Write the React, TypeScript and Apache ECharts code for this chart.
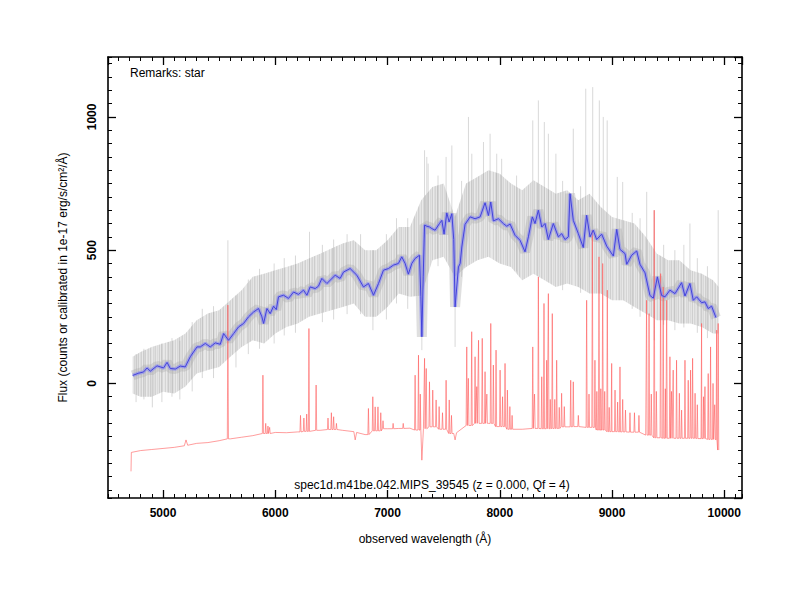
import React, { useEffect, useRef } from 'react';
import * as echarts from 'echarts';

const X_MIN = 4510;
const X_MAX = 10158;
const Y_MIN = -430;
const Y_MAX = 1225;

const xTitle = 'observed wavelength (Å)';
const yTitle = 'Flux (counts or calibrated in 1e-17 erg/s/cm²/Å)';
const remarks = 'Remarks: star';
const specTitle = 'spec1d.m41be.042.MIPS_39545 (z = 0.000, Qf = 4)';

// smoothed spectrum (blue)
const blueFlux: [number, number][] = [
  [4730, 30], [4780, 38], [4827, 43], [4858, 58], [4887, 46], [4947, 66], [5005, 58], [5036, 79],
  [5065, 56], [5110, 54], [5154, 65], [5198, 62], [5243, 100], [5272, 118], [5303, 137], [5332, 137],
  [5377, 150], [5421, 137], [5466, 152], [5510, 147], [5540, 187], [5584, 162], [5629, 187], [5673, 212],
  [5718, 225], [5762, 250], [5807, 268], [5851, 281], [5881, 250], [5896, 225], [5926, 281], [5955, 262],
  [5985, 290], [6009, 277], [6029, 325], [6074, 331], [6118, 319], [6163, 343], [6207, 334], [6252, 350],
  [6282, 331], [6311, 362], [6356, 356], [6385, 365], [6415, 394], [6460, 375], [6534, 406], [6578, 394],
  [6608, 418], [6667, 431], [6727, 406], [6786, 362], [6830, 375], [6875, 331], [6920, 375], [6964, 425],
  [7008, 431], [7053, 444], [7097, 450], [7127, 475], [7157, 450], [7186, 410], [7216, 450], [7246, 469],
  [7285, 481], [7297, 325], [7306, 175], [7318, 400], [7330, 594], [7350, 590], [7375, 587], [7395, 581],
  [7424, 575], [7463, 600], [7484, 612], [7504, 560], [7528, 640], [7549, 606], [7573, 637], [7590, 540],
  [7602, 287], [7632, 437], [7647, 450], [7662, 512], [7691, 597], [7736, 625], [7780, 618], [7825, 625],
  [7869, 678], [7899, 630], [7920, 681], [7943, 610], [7988, 618], [8032, 600], [8062, 590], [8092, 598],
  [8136, 556], [8181, 537], [8225, 494], [8255, 550], [8290, 625], [8314, 600], [8344, 650], [8374, 587],
  [8403, 600], [8433, 540], [8477, 600], [8522, 550], [8552, 562], [8581, 540], [8611, 550], [8626, 712],
  [8655, 612], [8700, 562], [8744, 510], [8774, 631], [8804, 550], [8833, 575], [8863, 540], [8908, 560],
  [8953, 515], [9012, 478], [9042, 578], [9071, 503], [9116, 487], [9131, 447], [9175, 481], [9220, 497],
  [9249, 447], [9294, 415], [9338, 330], [9368, 320], [9404, 400], [9442, 330], [9472, 325], [9516, 350],
  [9561, 337], [9620, 378], [9650, 328], [9694, 375], [9724, 312], [9754, 325], [9798, 303], [9828, 306],
  [9857, 281], [9887, 290], [9926, 247],
];

// spread of the individual exposures (grey)
const grayWavelengths = [
  4730, 4800, 4900, 5000, 5100, 5200, 5300, 5400, 5500, 5600, 5700, 5800, 5900, 6000, 6100, 6200, 6300,
  6400, 6500, 6600, 6700, 6800, 6900, 7000, 7100, 7200, 7300, 7400, 7500, 7600, 7700, 7800, 7900, 8000,
  8100, 8200, 8300, 8400, 8500, 8600, 8700, 8800, 8900, 9000, 9100, 9200, 9300, 9400, 9500, 9600, 9700,
  9800, 9900, 9950,
];
const grayLow = [
  -38, -50, -50, -31, -38, -12, 37, 50, 62, 100, 137, 162, 150, 187, 212, 225, 250,
  262, 275, 287, 300, 250, 250, 287, 337, 325, 330, 462, 475, 400, 437, 462, 475, 450,
  437, 387, 412, 387, 362, 375, 362, 337, 337, 312, 312, 287, 262, 237, 237, 225, 225,
  212, 187, 187,
];
const grayHigh = [
  100, 118, 137, 150, 162, 187, 237, 262, 275, 312, 350, 400, 412, 425, 437, 450, 469,
  487, 506, 525, 537, 500, 500, 537, 587, 587, 687, 737, 750, 625, 750, 775, 800, 787,
  750, 725, 762, 737, 712, 725, 687, 712, 662, 625, 612, 600, 550, 487, 462, 462, 425,
  412, 387, 362,
];
// [wavelength, low, high] of the strongest grey outliers
const graySpikes: [number, number, number][] = [
  [4760, -70, 110], [4830, -60, 130], [4905, -90, 60], [4990, -70, 150], [5080, -50, 170],
  [5150, -60, 160], [5260, -30, 230], [5350, 20, 280], [5450, 20, 290], [5578, 150, 537],
  [5650, 60, 330], [5760, 110, 390], [5860, 130, 430], [5990, 150, 450], [6080, 180, 470],
  [6180, 190, 480], [6305, 330, 569], [6420, 230, 520], [6520, 240, 540], [6640, 260, 560],
  [6760, 260, 560], [6870, 200, 500], [6990, 240, 560], [7080, 300, 620], [7180, 280, 620],
  [7306, 125, 480], [7330, 550, 875], [7350, 560, 850], [7362, 560, 825], [7450, 440, 780],
  [7522, 600, 850], [7573, 620, 893], [7602, 137, 500], [7660, 400, 760],
  [7721, 600, 1000], [7751, 620, 862], [7855, 650, 906], [7914, 650, 937], [7973, 620, 862],
  [8017, 600, 843], [8150, 420, 780], [8294, 600, 987], [8344, 620, 1062], [8397, 600, 981], [8433, 560, 937],
  [8500, 560, 862], [8560, 350, 760], [8655, 600, 956], [8720, 340, 740], [8766, 600, 1106], [8828, 560, 1112], [8887, 540, 1062],
  [8922, 540, 1000], [8957, 520, 987], [9047, 500, 775], [9095, 480, 756], [9180, 280, 640], [9250, 250, 620], [9309, 400, 719],
  [9376, 162, 650], [9460, 220, 520], [9560, 200, 500], [9640, 210, 520], [9694, 350, 600], [9760, 190, 470],
  [9850, 170, 440], [9946, 250, 650],
];

// sky / error spectrum (red): continuum and emission lines
const redBase: [number, number][] = [
  [4715, -330], [4718, -259], [4800, -252], [4900, -248], [5000, -244], [5100, -240], [5190, -234],
  [5205, -212], [5220, -232], [5300, -225], [5400, -222], [5500, -215], [5600, -208], [5700, -202],
  [5800, -196], [5900, -188], [6000, -184], [6100, -185], [6200, -182], [6300, -180], [6400, -176],
  [6500, -173], [6600, -176], [6700, -181], [6712, -212], [6725, -184], [6800, -192], [6900, -178],
  [7000, -170], [7100, -169], [7200, -168], [7290, -175], [7306, -288], [7320, -170], [7400, -163],
  [7500, -172], [7590, -188], [7602, -212], [7615, -185], [7700, -158], [7800, -150], [7900, -150],
  [8000, -162], [8100, -172], [8200, -172], [8300, -169], [8400, -170], [8500, -169], [8600, -163],
  [8700, -162], [8800, -165], [8900, -175], [9000, -181], [9100, -182], [9200, -183], [9300, -194],
  [9400, -204], [9500, -206], [9600, -206], [9700, -206], [9800, -207], [9900, -210], [9935, -212],
  [9945, -250],
];
const redSpikes: [number, number][] = [
  [5578, 294], [5890, 31], [5915, -150], [5935, -160], [5950, -165], [6225, -120], [6255, -130],
  [6280, -115], [6300, 206], [6364, -6], [6470, -130], [6500, -110], [6520, -125], [6545, -150],
  [6830, -94], [6869, -50], [6890, -88], [6915, -88], [6940, -110], [6960, -140], [7050, -150],
  [7140, -150], [7246, 31], [7276, 106], [7292, -40], [7330, 94], [7345, 56], [7374, 6], [7403, -25],
  [7433, -62], [7460, -87], [7490, -110], [7522, 12], [7550, -62], [7570, -120], [7706, 137],
  [7720, 19], [7750, 194], [7780, 100], [7795, -12], [7811, 162], [7844, 169], [7869, 44], [7885, -40],
  [7920, 225], [7943, 69], [7967, 125], [8003, 50], [8025, -50], [8047, 75], [8068, -25], [8090, -87],
  [8110, -120], [8294, 137], [8310, -40], [8344, 400], [8374, 25], [8394, 300], [8418, 87], [8433, 337],
  [8450, -60], [8468, 262], [8490, -60], [8507, 87], [8530, -90], [8551, -37], [8575, -87], [8632, 12],
  [8655, 6], [8700, -120], [8774, 312], [8795, -40], [8825, 575], [8848, 87], [8865, -30], [8884, 475],
  [8900, -20], [8917, 450], [8935, -30], [8958, 350], [8975, -90], [8997, 75], [9027, -25], [9050, -70],
  [9071, 62], [9095, -60], [9120, -100], [9160, -110], [9200, -110], [9240, -120], [9308, 312],
  [9330, 262], [9350, -40], [9376, 650], [9395, -30], [9433, 412], [9456, 362], [9475, -20], [9487, 312],
  [9516, 100], [9530, -30], [9545, 50], [9575, 87], [9600, -37], [9620, -100], [9650, 87], [9679, 12],
  [9700, 50], [9718, 94], [9740, -37], [9760, -80], [9798, 225], [9815, -50], [9828, -12], [9857, 37],
  [9878, 137], [9900, 0], [9915, -80], [9932, 200], [9946, 225],
];

// opacity of the vertical hatching that gives the grey band its streaky look
const streakAlphas = [
  0.08, 0.28, 0.03, 0.2, 0.36, 0.11, 0.24, 0.05, 0.33, 0.16, 0.08, 0.26, 0.03, 0.22, 0.14, 0.34,
  0.06, 0.18, 0.3, 0.04, 0.21, 0.1, 0.31, 0.02, 0.17, 0.27, 0.07, 0.35, 0.12, 0.04, 0.23, 0.15,
  0.29, 0.06, 0.19, 0.09, 0.32, 0.05, 0.25, 0.13, 0.02,
];

function buildRed(): [number, number][] {
  const pts: [number, number][] = redBase.map((p) => [p[0], p[1]] as [number, number]);
  for (const [w, peak] of redSpikes) {
    let base = redBase[0][1];
    let best = Infinity;
    for (const [bw, bv] of redBase) {
      const d = Math.abs(bw - w);
      if (d < best) {
        best = d;
        base = bv;
      }
    }
    pts.push([w - 5, base], [w, peak], [w + 5, base]);
  }
  pts.sort((a, b) => a[0] - b[0]);
  return pts;
}

function makeStreakPattern(): any {
  const c = document.createElement('canvas');
  c.width = streakAlphas.length;
  c.height = 2;
  const ctx = c.getContext('2d');
  if (!ctx) return 'rgba(0,0,0,0)';
  streakAlphas.forEach((a, i) => {
    ctx.fillStyle = `rgba(150,150,150,${a})`;
    ctx.fillRect(i, 0, 1, 2);
  });
  return { image: c, repeat: 'repeat' };
}

const FONT = 'Liberation Sans';

function labelStyle(isX: boolean) {
  return {
    show: true,
    showMinLabel: false,
    showMaxLabel: false,
    color: '#000',
    fontFamily: FONT,
    fontSize: 12,
    fontWeight: 'bold',
    margin: isX ? 9 : 10,
    rotate: isX ? 0 : 90,
    formatter: (v: number) => String(v),
  };
}

function axisOf(isX: boolean, position: string, step: number, major: boolean, labels: boolean): any {
  return {
    type: 'value',
    position,
    min: isX ? X_MIN : Y_MIN,
    max: isX ? X_MAX : Y_MAX,
    minInterval: step,
    maxInterval: step,
    axisLine: major
      ? { show: true, onZero: false, lineStyle: { color: '#000', width: 1.6 } }
      : { show: false, onZero: false },
    axisTick: {
      show: true,
      inside: true,
      length: major ? 8 : 4,
      lineStyle: { color: '#000', width: major ? 1.3 : 1 },
    },
    splitLine: { show: false },
    axisLabel: labels ? labelStyle(isX) : { show: false },
  };
}

export default function App() {
  const ref = useRef<HTMLDivElement>(null);

  useEffect(() => {
    if (!ref.current) return;
    const chart = echarts.init(ref.current, undefined, { renderer: 'svg' });
    const redData = buildRed();
    const streak = makeStreakPattern();

    const xBottom = axisOf(true, 'bottom', 1000, true, true);
    xBottom.name = xTitle;
    xBottom.nameLocation = 'middle';
    xBottom.nameGap = 35;
    xBottom.nameTextStyle = { fontFamily: FONT, fontSize: 12, color: '#000' };
    const yLeft = axisOf(false, 'left', 500, true, true);
    yLeft.name = yTitle;
    yLeft.nameLocation = 'middle';
    yLeft.nameGap = 39;
    yLeft.nameTextStyle = { fontFamily: FONT, fontSize: 12, color: '#000' };

    const option: any = {
      animation: false,
      backgroundColor: '#fff',
      textStyle: { fontFamily: FONT },
      grid: { left: 108, right: 58, top: 57, bottom: 102, containLabel: false, outerBoundsMode: 'none' },
      xAxis: [
        xBottom,
        axisOf(true, 'top', 1000, true, false),
        axisOf(true, 'bottom', 100, false, false),
        axisOf(true, 'top', 100, false, false),
      ],
      yAxis: [
        yLeft,
        axisOf(false, 'right', 500, true, false),
        axisOf(false, 'left', 50, false, false),
        axisOf(false, 'right', 50, false, false),
      ],
      graphic: [
        {
          type: 'text',
          left: 130,
          top: 67,
          style: { text: remarks, fontFamily: FONT, fontSize: 12, fill: '#000' },
        },
        {
          type: 'text',
          x: 432,
          y: 485,
          style: {
            text: specTitle,
            fontFamily: FONT,
            fontSize: 12,
            fill: '#000',
            textAlign: 'center',
            textVerticalAlign: 'middle',
          },
        },
      ],
      series: [
        {
          type: 'custom',
          name: 'exposure spread',
          silent: true,
          data: [[grayWavelengths[0], grayLow[0]]],
          renderItem: (_p: any, api: any) => {
            const top = grayWavelengths.map((w, i) => api.coord([w, grayHigh[i]]));
            const bottom = grayWavelengths.map((w, i) => api.coord([w, grayLow[i]])).reverse();
            const points = top.concat(bottom);
            return {
              type: 'group',
              children: [
                { type: 'polygon', shape: { points }, style: { fill: 'rgba(216,216,216,0.5)' } },
                { type: 'polygon', shape: { points }, style: { fill: streak } },
              ],
            };
          },
        },
        {
          type: 'custom',
          name: 'exposure outliers',
          silent: true,
          data: graySpikes,
          encode: { x: 0, y: [1, 2] },
          renderItem: (_p: any, api: any) => {
            const w = api.value(0);
            const p1 = api.coord([w, api.value(1)]);
            const p2 = api.coord([w, api.value(2)]);
            return {
              type: 'line',
              shape: { x1: p1[0], y1: p1[1], x2: p2[0], y2: p2[1] },
              style: { stroke: 'rgba(165,165,165,0.55)', lineWidth: 0.8 },
            };
          },
        },
        {
          type: 'line',
          name: 'exposure core',
          silent: true,
          data: blueFlux,
          showSymbol: false,
          lineStyle: { color: 'rgba(175,175,175,0.4)', width: 10, join: 'bevel' },
        },
        {
          type: 'line',
          name: 'sky',
          silent: true,
          data: redData,
          showSymbol: false,
          lineStyle: { color: 'rgba(255,90,90,0.75)', width: 0.8 },
        },
        {
          type: 'line',
          name: 'smoothed error',
          silent: true,
          data: blueFlux,
          showSymbol: false,
          lineStyle: { color: 'rgba(130,130,245,0.55)', width: 3.5 },
        },
        {
          type: 'line',
          name: 'smoothed',
          silent: true,
          data: blueFlux,
          showSymbol: false,
          lineStyle: { color: '#4343db', width: 1 },
        },
      ],
    };
    chart.setOption(option);
    return () => chart.dispose();
  }, []);

  return (
    <div
      ref={ref}
      style={{ position: 'absolute', left: 0, top: 0, width: 800, height: 600, background: '#fff' }}
    />
  );
}
